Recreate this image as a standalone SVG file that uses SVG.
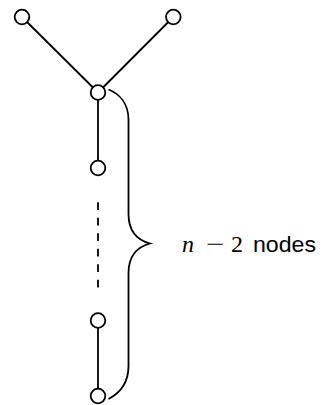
<svg xmlns="http://www.w3.org/2000/svg" width="331" height="405" viewBox="0 0 331 405">
  <style>
    .edge { stroke: #000; stroke-width: 1.8; fill: none; }
    .dashed { stroke-dasharray: 7.7 7.8; }
    .node circle { fill: #fff; stroke: #000; stroke-width: 1.8; }
    .brace { stroke: #000; stroke-width: 1.8; fill: none; }
    .math { font-family: "Liberation Serif", serif; font-size: 24px; fill: #000; }
    .label { font-family: "Liberation Sans", Arial, sans-serif; font-size: 22px; fill: #000; }
  </style>
  <rect width="331" height="405" fill="#fff"/>

  <g id="connectors">
    <line class="edge" x1="22" y1="17" x2="98" y2="92.5"/>
    <line class="edge" x1="173.3" y1="17" x2="98" y2="92.5"/>
    <line class="edge" x1="98" y1="92.5" x2="98" y2="168"/>
    <line class="edge dashed" x1="98" y1="202.3" x2="98" y2="288"/>
    <line class="edge" x1="98" y1="320.5" x2="98" y2="396"/>
  </g>

  <g id="node-left" class="node"><circle cx="22" cy="17" r="7.3"/></g>
  <g id="node-right" class="node"><circle cx="173.3" cy="17" r="7.3"/></g>
  <g id="node-center" class="node"><circle cx="98" cy="92.5" r="7.3"/></g>
  <g id="node-2" class="node"><circle cx="98" cy="168" r="7.3"/></g>
  <g id="node-3" class="node"><circle cx="98" cy="320.5" r="7.3"/></g>
  <g id="node-4" class="node"><circle cx="98" cy="396" r="7.3"/></g>

  <g id="brace">
    <path class="brace" d="M108.5,89.5 C120,94 128.5,104 128.5,120 L128.5,214 C128.5,232 137,240 150,243.5 C137,247 128.5,255 128.5,273 L128.5,366 C128.5,382 120,393 108.5,399"/>
  </g>

  <g id="brace-label">
    <text class="math" x="182" y="252" font-style="italic">n</text>
    <text class="math" x="206" y="252" textLength="18.5" lengthAdjust="spacingAndGlyphs">−</text>
    <text class="math" x="231" y="252">2</text>
    <text class="label" x="253" y="252" textLength="63" lengthAdjust="spacingAndGlyphs">nodes</text>
  </g>
</svg>
